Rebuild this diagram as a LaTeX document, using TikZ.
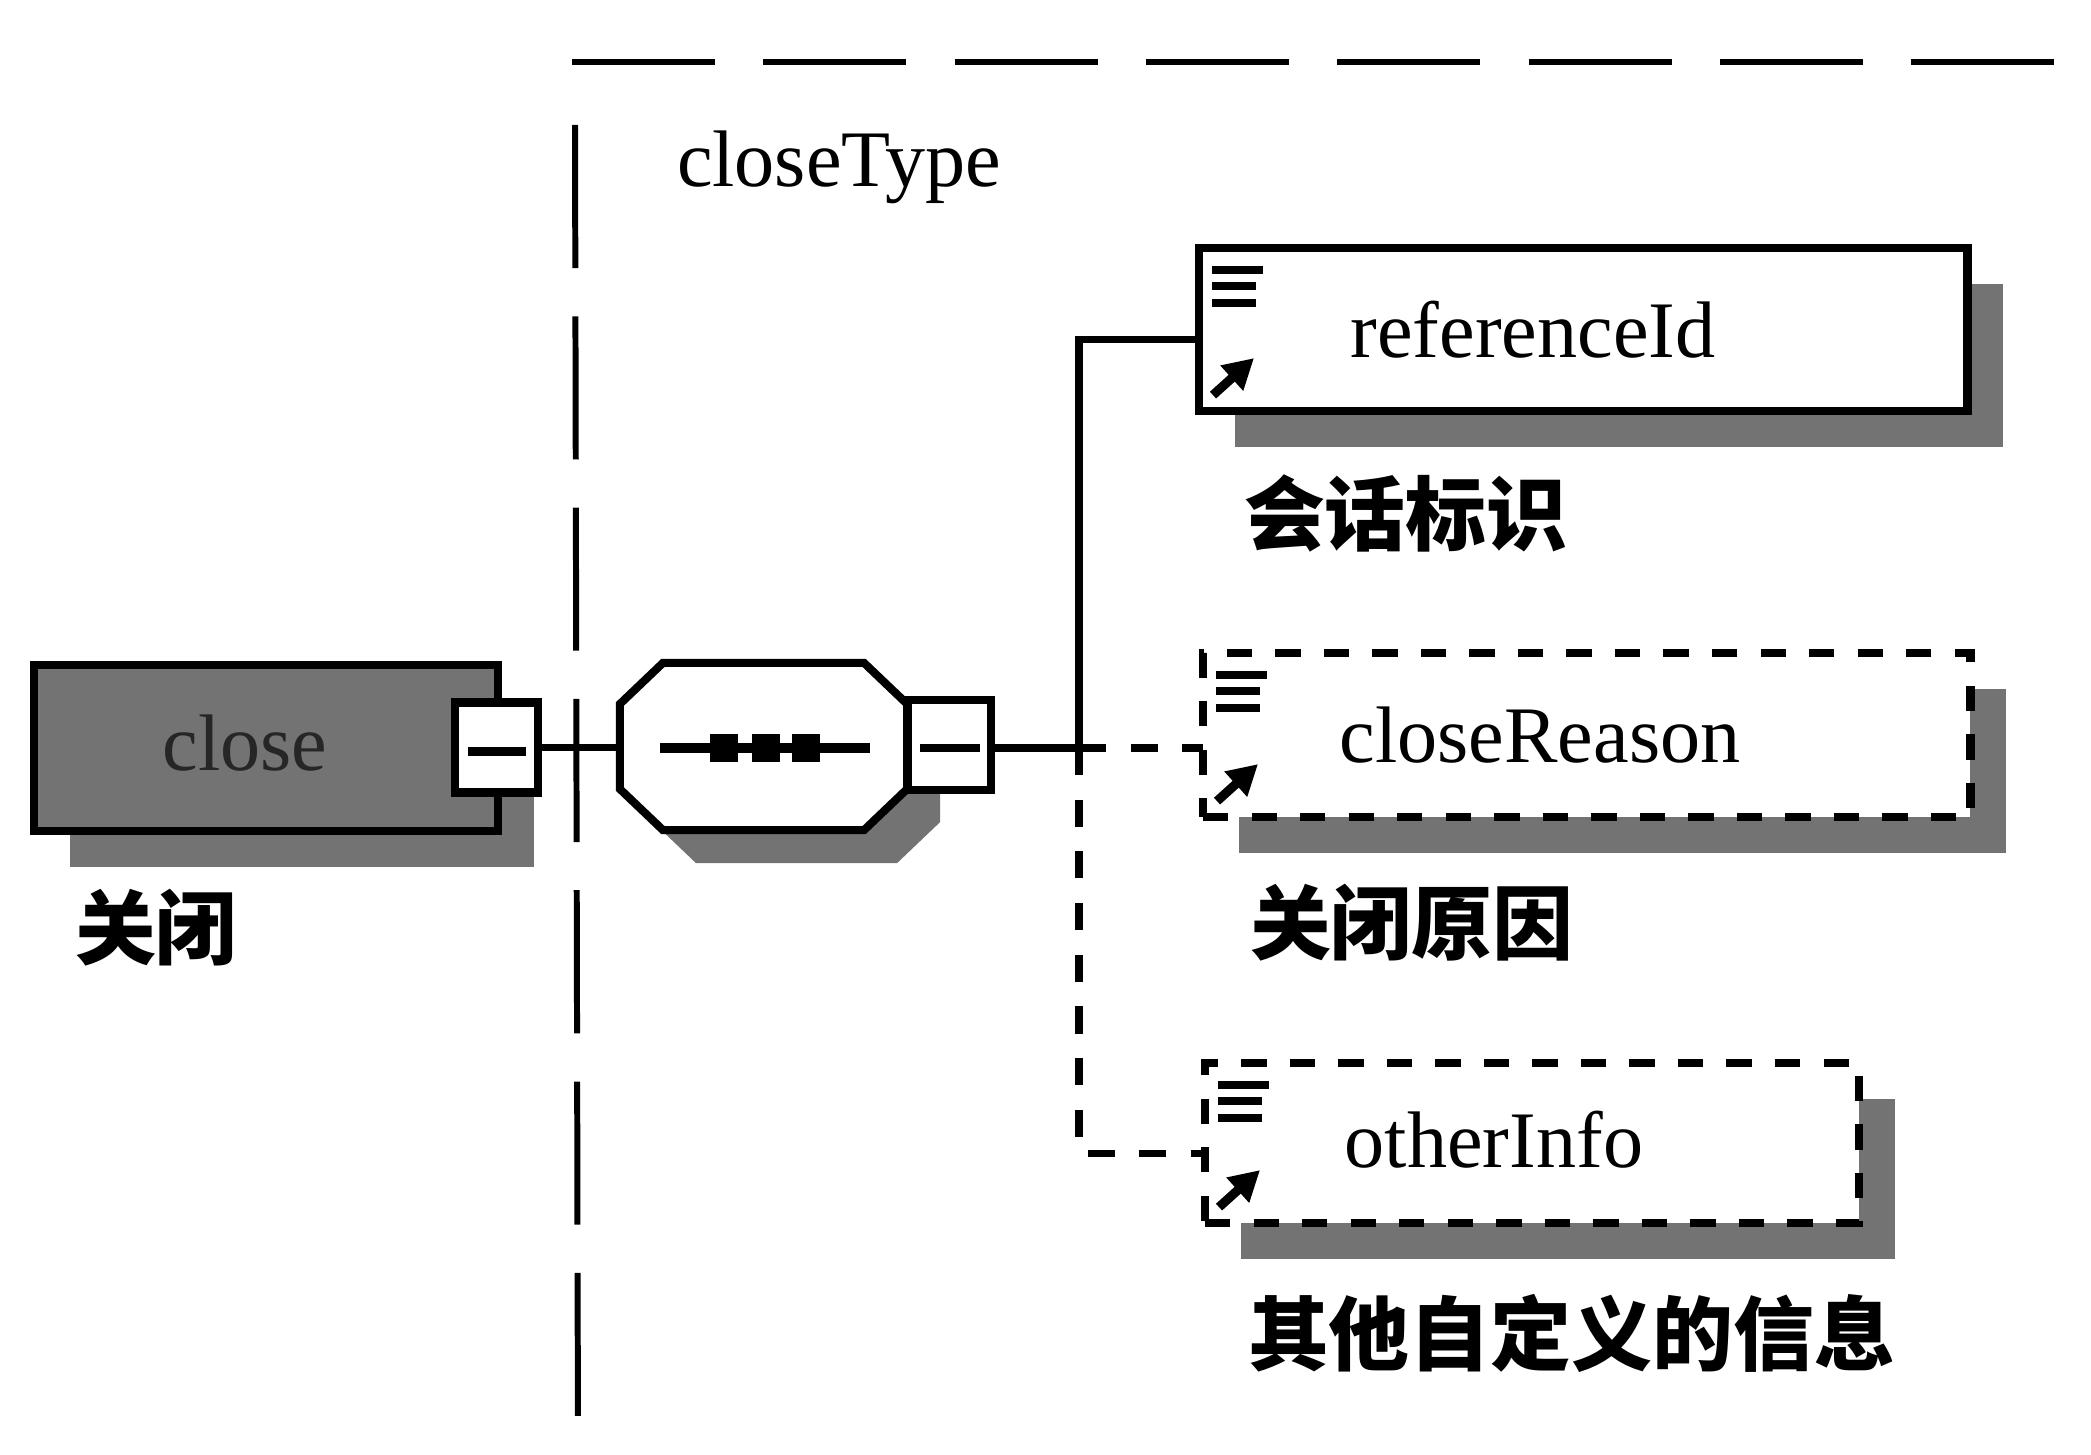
\documentclass[tikz,border=0pt]{standalone}
\usepackage{fontspec}
\setmainfont{Liberation Serif}
\newfontfamily\cjk{Noto Sans CJK SC}
\usetikzlibrary{shadows,calc,arrows.meta}

\newcommand\elemicons[1]{%
  \draw[iconline] ($(#1.north west)+(13,22)$) -- ++(51,0);
  \draw[iconline] ($(#1.north west)+(13,38)$) -- ++(44,0);
  \draw[iconline] ($(#1.north west)+(13,55)$) -- ++(44,0);
  \draw[line width=2.6pt,-{Triangle[length=0.3cm,width=0.32cm]}] ($(#1.south west)+(14,-16)$) -- ++(41,-37);
}
\newcommand\octpath[1]{($(#1.north west)+(43,0)$) -- ($(#1.north east)+(-43,0)$) -- ($(#1.north east)+(0,41)$) -- ($(#1.south east)+(0,-41)$) -- ($(#1.south east)+(-43,0)$) -- ($(#1.south west)+(43,0)$) -- ($(#1.south west)+(0,-41)$) -- ($(#1.north west)+(0,41)$) -- cycle}

\begin{document}
\begin{tikzpicture}[x=0.01cm,y=-0.01cm,
  every node/.style={inner sep=0pt,outer sep=0pt},
  lat/.style={font=\fontsize{22.8}{27}\selectfont,anchor=base},
  zh/.style={font=\cjk\bfseries\fontsize{23}{28}\selectfont,anchor=west},
  shad/.style={drop shadow={shadow xshift=0.36cm,shadow yshift=-0.36cm,fill=black!55,draw=none,opacity=1}},
  elem/.style={draw,line width=2.3pt,fill=white,rectangle,anchor=north west,shad},
  optelem/.style={elem,dash pattern=on 7.2pt off 6.6pt},
  conn/.style={line width=2pt},
  optconn/.style={conn,dash pattern=on 7.7pt off 7pt},
  framel/.style={line width=1.7pt,dash pattern=on 40.7pt off 13.7pt},
  minusbox/.style={draw,line width=2.3pt,fill=white,rectangle,minimum width=0.83cm,minimum height=0.9cm},
  iconline/.style={line width=2pt},
  minusl/.style={line width=2.4pt}
]
\useasboundingbox[fill=white] (0,0) rectangle (2091,1455);

% complex type frame
\coordinate (ftl) at (572,62);
\coordinate (ftr) at (2091,62);
\coordinate (flt) at (575,125);
\coordinate (flb) at (578,1455);
\draw[framel] (ftl) -- (ftr);
\draw[framel] (flt) -- (flb);
\node[lat,anchor=base west] (ctype) at (677,187) {closeType};

% root element
\node[draw,line width=2.3pt,fill=black!55,rectangle,anchor=north west,
      minimum width=4.64cm,minimum height=1.66cm,shad] (close) at (34,665) {};
\node[lat,text=black!85] (closetxt) at (245,770) {close};
\node[minusbox] (closem) at (496.5,747.5) {};
\draw[minusl] ($(closem.center)+(-29,4)$) -- ($(closem.center)+(29,4)$);
\node[zh] (closelab) at (75,928) {关闭};

% sequence compositor (octagon)
\node[rectangle,minimum width=2.87cm,minimum height=1.67cm] (seq) at (763.5,746.5) {};
\begin{scope}[transform canvas={xshift=0.33cm,yshift=-0.33cm}]
\fill[black!55] \octpath{seq};
\end{scope}
\draw[line width=2.3pt,fill=white,line join=miter] \octpath{seq};
\draw[line width=2.8pt] (660,748) -- (870,748);
\foreach \cx in {724,766,806} \fill (\cx-14,734) rectangle (\cx+14,762);
\node[minusbox] (seqm) at (949.5,745) {};
\draw[minusl] ($(seqm.center)+(-30,3)$) -- ($(seqm.center)+(30,3)$);

% child elements
\node[elem,minimum width=7.68cm,minimum height=1.63cm] (ref) at (1199,248) {};
\node[lat] (reftxt) at (1533,358) {referenceId};
\elemicons{ref}
\node[zh] (reflab) at (1244,513) {会话标识};

\node[optelem,minimum width=7.67cm,minimum height=1.64cm] (reason) at (1203,653) {};
\node[lat] (reasontxt) at (1540,762) {closeReason};
\elemicons{reason}
\node[zh] (reasonlab) at (1250,923) {关闭原因};

\node[optelem,minimum width=6.54cm,minimum height=1.6cm] (other) at (1205,1063) {};
\node[lat] (othertxt) at (1494,1167) {otherInfo};
\elemicons{other}
\node[zh] (otherlab) at (1248,1333) {其他自定义的信息};

% connectors
\coordinate (junc) at (1079,748);
\draw[conn] (closem.east) -- (closem.east -| seq.west);
\draw[conn] (seqm.east |- junc) -- (junc);
\draw[conn] (junc) |- ([yshift=-0.1cm]ref.west);
\draw[optconn] (junc) -- (reason.west |- junc);
\draw[optconn] (junc) |- ([yshift=-0.1cm]other.west);
\end{tikzpicture}
\end{document}
